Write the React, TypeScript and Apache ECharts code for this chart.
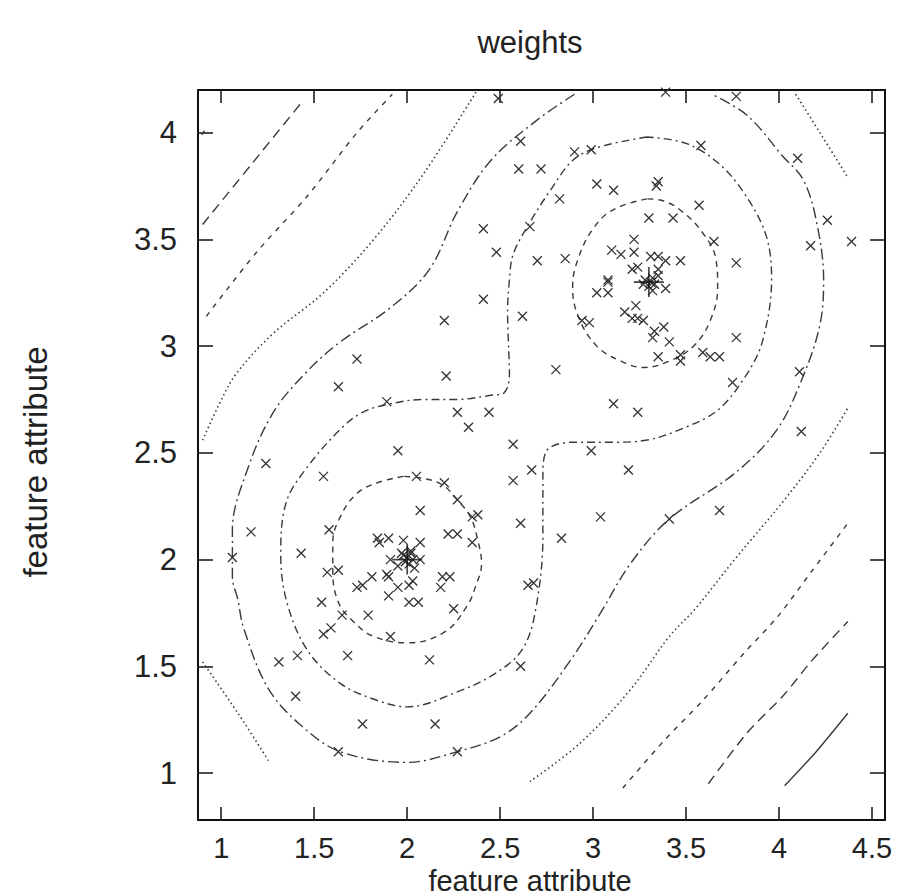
import React, { useEffect, useRef } from "react";
import * as echarts from "echarts";

const xTicks = [1, 1.5, 2, 2.5, 3, 3.5, 4, 4.5];
const yTicks = [1, 1.5, 2, 2.5, 3, 3.5, 4];

const samples: number[][] = [
  [2.49, 4.16], [2.61, 3.96], [2.60, 3.83], [2.72, 3.83], [2.41, 3.55], [2.66, 3.56], [2.48, 3.44], [2.70, 3.40],
  [2.41, 3.22], [2.20, 3.12], [2.62, 3.14], [1.73, 2.94], [2.21, 2.86],
  [3.39, 4.19], [3.77, 4.17], [3.58, 3.94], [2.90, 3.91], [2.99, 3.92], [4.10, 3.88], [3.02, 3.76], [3.11, 3.73],
  [3.35, 3.77], [3.34, 3.75], [2.82, 3.69], [3.57, 3.66], [3.30, 3.60], [3.43, 3.60], [4.26, 3.59], [4.39, 3.49],
  [4.17, 3.47], [3.65, 3.49], [2.85, 3.41], [3.22, 3.50],
  [3.10, 3.45], [3.15, 3.43], [3.22, 3.44], [3.31, 3.42], [3.35, 3.42], [3.39, 3.40], [3.47, 3.40], [3.77, 3.39],
  [3.21, 3.36], [3.24, 3.37], [3.35, 3.36], [3.08, 3.31], [3.08, 3.30], [3.02, 3.25], [3.08, 3.25], [3.39, 3.27],
  [3.33, 3.29], [3.32, 3.32], [3.35, 3.33], [3.30, 3.28], [3.31, 3.30], [3.28, 3.31], [3.27, 3.29], [3.32, 3.26],
  [3.23, 3.19], [3.17, 3.16], [3.21, 3.13], [3.24, 3.13], [3.27, 3.12], [2.94, 3.12], [2.98, 3.11], [3.77, 3.04],
  [3.38, 3.09], [3.33, 3.07], [3.32, 3.04], [3.41, 3.02], [3.35, 2.95], [3.47, 2.96], [3.47, 2.93], [3.59, 2.97],
  [3.63, 2.95], [3.68, 2.95], [2.80, 2.89], [4.11, 2.88], [3.75, 2.83],
  [3.11, 2.73], [3.24, 2.69], [4.12, 2.60], [2.99, 2.51], [2.67, 2.42], [3.19, 2.42], [3.04, 2.20], [3.41, 2.19],
  [3.68, 2.23], [2.83, 2.10], [2.68, 1.89],
  [1.63, 2.81], [1.89, 2.74], [2.27, 2.69], [2.44, 2.69], [2.33, 2.62], [2.57, 2.54], [1.95, 2.51], [2.57, 2.37],
  [1.24, 2.45], [1.55, 2.39], [2.05, 2.39], [2.20, 2.36], [2.27, 2.28], [2.07, 2.23], [2.35, 2.20], [2.38, 2.21],
  [2.61, 2.17], [1.16, 2.13], [1.58, 2.14], [1.84, 2.10], [1.90, 2.10], [1.98, 2.09], [2.07, 2.08], [2.22, 2.12],
  [2.27, 2.12], [2.35, 2.08], [1.85, 2.08], [1.06, 2.01], [1.43, 2.03],
  [1.91, 2.00], [2.07, 2.00], [1.98, 2.02], [2.02, 2.03], [2.00, 2.01], [1.99, 1.99], [2.01, 1.98], [2.03, 2.00],
  [2.02, 2.04], [1.97, 2.03], [1.95, 1.97], [2.04, 1.96], [2.03, 1.90], [2.01, 1.88], [1.95, 1.87], [1.90, 1.92],
  [1.81, 1.92], [2.19, 1.92], [2.18, 1.87], [2.23, 1.92], [1.57, 1.94], [1.63, 1.95], [1.89, 1.93], [1.73, 1.87],
  [1.76, 1.88], [2.65, 1.88], [1.54, 1.80], [1.90, 1.83], [2.01, 1.80], [2.06, 1.80], [2.25, 1.77], [1.65, 1.74],
  [1.79, 1.74],
  [1.59, 1.68], [1.55, 1.65], [1.91, 1.64], [1.41, 1.55], [1.31, 1.52], [1.68, 1.55], [2.12, 1.53], [2.61, 1.50],
  [1.40, 1.36], [1.76, 1.23], [2.15, 1.23], [1.63, 1.10], [2.27, 1.10],
];

const centers: number[][] = [[2.0, 2.0], [3.3, 3.3]];

// contour level 1 (solid)
const solidA = [[4.03, 0.94], [4.2, 1.1], [4.37, 1.28]];
const solidB = [[0.895, 3.99], [0.91, 4.01]];
// level 2 (long dash)
const longDashA = [[0.9, 3.57], [1.17, 3.86], [1.44, 4.15]];
const longDashB = [[3.62, 0.95], [3.83, 1.19], [4.02, 1.36], [4.18, 1.53], [4.37, 1.71]];
// level 3 (short dash)
const shortDashA = [[0.92, 3.14], [1.19, 3.44], [1.46, 3.7], [1.73, 4.0], [1.92, 4.18]];
const shortDashB = [[3.16, 0.93], [3.38, 1.15], [3.59, 1.34], [3.81, 1.56], [3.99, 1.73], [4.18, 1.95], [4.37, 2.17]];
// level 4 (dotted)
const dotA = [[2.37, 4.19], [2.09, 3.81], [1.82, 3.5], [1.55, 3.25], [1.28, 3.06], [1.08, 2.87], [0.99, 2.73], [0.9, 2.56]];
const dotB = [[0.9, 1.52], [1.09, 1.28], [1.26, 1.05]];
const dotC = [[2.66, 0.96], [2.93, 1.14], [3.2, 1.39], [3.41, 1.64], [3.55, 1.77], [3.77, 2.01], [4.02, 2.27], [4.22, 2.5], [4.37, 2.71]];
const dotD = [[4.09, 4.18], [4.22, 4.0], [4.37, 3.79]];
// level 5 (outer dash-dot)
const outer = [
  [2.9, 4.18], [2.7, 4.06], [2.45, 3.87], [2.27, 3.63], [2.12, 3.36], [1.91, 3.18], [1.64, 3.02], [1.46, 2.88],
  [1.28, 2.69], [1.14, 2.42], [1.06, 2.14], [1.06, 1.92], [1.09, 1.81], [1.12, 1.68], [1.25, 1.4], [1.42, 1.23],
  [1.64, 1.1], [2.0, 1.05], [2.27, 1.1], [2.5, 1.17], [2.66, 1.28], [2.88, 1.53], [3.04, 1.75], [3.2, 1.98],
  [3.41, 2.19], [3.77, 2.41], [3.99, 2.61], [4.13, 2.86], [4.22, 3.1], [4.24, 3.31], [4.2, 3.59], [4.13, 3.78],
  [4.02, 3.89], [3.83, 4.08], [3.64, 4.18],
];
// level 6 (peanut dash-dot)
const peanut = [
  [3.29, 3.98], [3.02, 3.93], [2.89, 3.87], [2.77, 3.73], [2.66, 3.58], [2.57, 3.43], [2.55, 3.31], [2.54, 3.16],
  [2.55, 2.86], [2.52, 2.78], [2.45, 2.77], [2.27, 2.75], [2.09, 2.75], [1.91, 2.73], [1.76, 2.69], [1.64, 2.61],
  [1.46, 2.43], [1.35, 2.27], [1.32, 2.03], [1.35, 1.81], [1.46, 1.58], [1.64, 1.42], [1.84, 1.34], [2.0, 1.31],
  [2.27, 1.38], [2.48, 1.47], [2.62, 1.58], [2.69, 1.76], [2.73, 2.11], [2.73, 2.39], [2.75, 2.51], [2.89, 2.55],
  [3.11, 2.55], [3.29, 2.56], [3.47, 2.61], [3.67, 2.7], [3.82, 2.86], [3.91, 3.02], [3.96, 3.31], [3.93, 3.52],
  [3.81, 3.72], [3.67, 3.86], [3.5, 3.95], [3.29, 3.98],
];
// level 7 (inner dashed circles)
const innerLeft = [
  [1.98, 2.39], [1.84, 2.36], [1.73, 2.31], [1.64, 2.2], [1.6, 2.08], [1.6, 1.95], [1.63, 1.8], [1.71, 1.71],
  [1.82, 1.64], [2.0, 1.61], [2.2, 1.66], [2.32, 1.78], [2.37, 1.88], [2.4, 1.98], [2.38, 2.09], [2.34, 2.2],
  [2.27, 2.28], [2.19, 2.35], [2.09, 2.38], [1.98, 2.39],
];
const innerRight = [
  [3.29, 3.69], [3.11, 3.64], [3.0, 3.55], [2.92, 3.41], [2.89, 3.28], [2.92, 3.14], [3.02, 3.0], [3.15, 2.93],
  [3.27, 2.9], [3.41, 2.93], [3.54, 3.0], [3.63, 3.12], [3.67, 3.28], [3.66, 3.41], [3.59, 3.53], [3.48, 3.63],
  [3.38, 3.68], [3.29, 3.69],
];

const FONT = "'Liberation Sans', Arial, Helvetica, sans-serif";
const LINE = "#3a3a3a";

function contour(data: number[][], type: any, smooth = 0.35, width = 1.4) {
  return {
    type: "line",
    data,
    showSymbol: false,
    symbol: "none",
    smooth,
    silent: true,
    clip: true,
    lineStyle: { color: LINE, width, type },
    z: 2,
  };
}

export default function App() {
  const ref = useRef<HTMLDivElement>(null);
  useEffect(() => {
    if (!ref.current) return;
    const chart = echarts.init(ref.current, undefined, { renderer: "svg" });
    const xMin = 0.875, xMax = 4.57, yMin = 0.78, yMax = 4.2;
    const axisLine = { show: true, onZero: false, lineStyle: { color: "#111", width: 2 } };
    const tickStyle = { color: "#111", width: 1.5 };
    chart.setOption({
      animation: false,
      backgroundColor: "#fff",
      grid: { left: 198, top: 90, width: 687, height: 730, containLabel: false },
      xAxis: [
        {
          type: "value", min: xMin, max: xMax, position: "bottom",
          axisLine,
          axisTick: { show: true, inside: true, length: 13, customValues: xTicks, lineStyle: tickStyle },
          axisLabel: { show: true, customValues: xTicks, fontSize: 29, color: "#222", fontFamily: FONT, margin: 13 },
          splitLine: { show: false },
        },
        {
          type: "value", min: xMin, max: xMax, position: "top",
          axisLine,
          axisTick: { show: true, inside: true, length: 13, customValues: xTicks, lineStyle: tickStyle },
          axisLabel: { show: false },
          splitLine: { show: false },
        },
      ],
      yAxis: [
        {
          type: "value", min: yMin, max: yMax, position: "left",
          axisLine,
          axisTick: { show: true, inside: true, length: 15, customValues: yTicks, lineStyle: tickStyle },
          axisLabel: { show: true, customValues: yTicks, fontSize: 31, color: "#222", fontFamily: FONT, margin: 21 },
          splitLine: { show: false },
        },
        {
          type: "value", min: yMin, max: yMax, position: "right",
          axisLine,
          axisTick: { show: true, inside: true, length: 15, customValues: yTicks, lineStyle: tickStyle },
          axisLabel: { show: false },
          splitLine: { show: false },
        },
      ],
      graphic: [
        { type: "text", x: 530, y: 42, style: { text: "weights", fontSize: 31, fontFamily: FONT, fill: "#222", align: "center", verticalAlign: "middle" } },
        { type: "text", x: 530, y: 881, style: { text: "feature attribute", fontSize: 29, fontFamily: FONT, fill: "#222", align: "center", verticalAlign: "middle" } },
        { type: "text", x: 35, y: 462, rotation: Math.PI / 2, style: { text: "feature attribute", fontSize: 33, fontFamily: FONT, fill: "#222", align: "center", verticalAlign: "middle" } },
      ],
      series: [
        contour(solidA, "solid", 0.2),
        contour(solidB, "solid", 0),
        contour(longDashA, [10, 6], 0.3),
        contour(longDashB, [10, 6], 0.3),
        contour(shortDashA, [5, 6], 0.3),
        contour(shortDashB, [5, 6], 0.3),
        contour(dotA, [1.5, 3], 0.35, 1.6),
        contour(dotB, [1.5, 3], 0.35, 1.6),
        contour(dotC, [1.5, 3], 0.35, 1.6),
        contour(dotD, [1.5, 3], 0.35, 1.6),
        contour(outer, [11, 4, 2, 4], 0.35),
        contour(peanut, [8, 4, 2, 4], 0.35),
        contour(innerLeft, [6, 5], 0.4),
        contour(innerRight, [6, 5], 0.4),
        {
          type: "scatter",
          data: samples,
          symbol: "path://M0 0L10 10M10 0L0 10",
          symbolSize: 9,
          silent: true,
          itemStyle: { color: "none", borderColor: "#333", borderWidth: 1.3, opacity: 1 },
          z: 3,
        },
        {
          type: "scatter",
          data: centers,
          symbol: "path://M0 5L10 5M5 0L5 10",
          symbolSize: 30,
          silent: true,
          itemStyle: { color: "none", borderColor: "#111", borderWidth: 1.6 },
          z: 4,
        },
      ],
    });
    return () => chart.dispose();
  }, []);
  return (
    <div
      ref={ref}
      style={{ position: "fixed", left: 0, top: 0, width: 908, height: 896, background: "#fff" }}
    />
  );
}
